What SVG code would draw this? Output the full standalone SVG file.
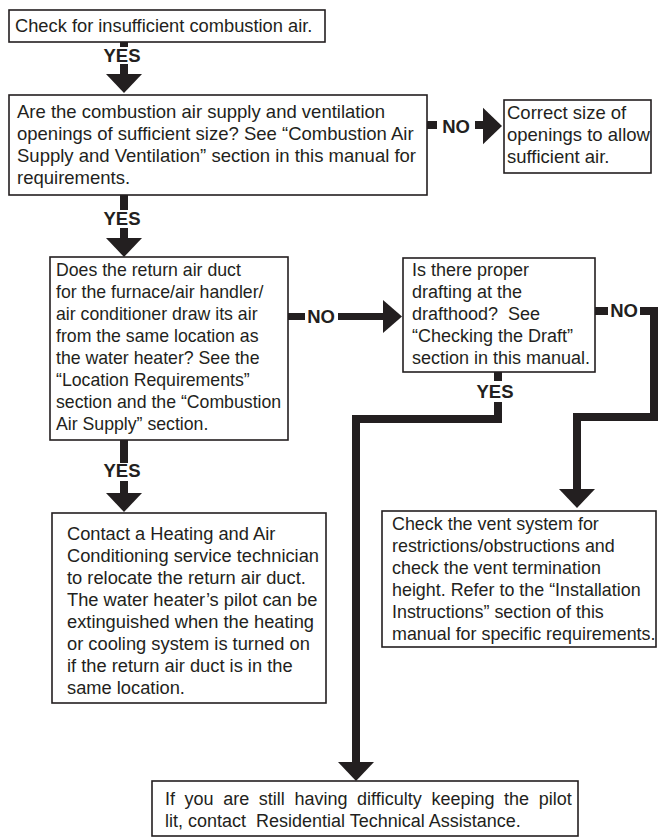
<svg xmlns="http://www.w3.org/2000/svg" width="658" height="838" viewBox="0 0 658 838">
<style>
.box{fill:#fff;stroke:#231f20;stroke-width:1.6}
.t{font-family:"Liberation Sans",Arial,Helvetica,sans-serif;font-size:18px;fill:#231f20}
.lbl{font-family:"Liberation Sans",Arial,Helvetica,sans-serif;font-size:18.5px;font-weight:bold;fill:#231f20;text-anchor:middle}
.shaft{fill:none;stroke:#231f20;stroke-width:8;stroke-linejoin:miter;stroke-linecap:butt}
.head{fill:#231f20}
</style>
<defs>
<path id="ah" d="M-18,0 L18,0 L0,19 Z"/>
</defs>
<rect width="658" height="838" fill="#fff"/>

<g id="connectors">
<path class="shaft" d="M124,42 V47 M124,64 V75"/>
<use href="#ah" class="head" transform="translate(124,74)"/>
<text class="lbl" x="122" y="62">YES</text>

<path class="shaft" d="M124,195 V210 M124,228 V239"/>
<use href="#ah" class="head" transform="translate(124,238)"/>
<text class="lbl" x="122" y="225">YES</text>

<path class="shaft" d="M427,125 H437 M475,125 H484"/>
<use href="#ah" class="head" transform="translate(483,126) rotate(-90) scale(1.02,1)"/>
<text class="lbl" x="456" y="133">NO</text>

<path class="shaft" d="M288,316.5 H305 M338,316.5 H384" style="stroke-width:7"/>
<use href="#ah" class="head" transform="translate(383,316.5) rotate(-90) scale(0.92,1)"/>
<text class="lbl" x="321" y="323">NO</text>

<path class="shaft" d="M595,311 H608 M640,311 H654 V417 H577 V490"/>
<use href="#ah" class="head" transform="translate(577,489)"/>
<text class="lbl" x="624" y="317">NO</text>

<path class="shaft" d="M498,372 V381 M498,402 V419 H356 V763"/>
<use href="#ah" class="head" transform="translate(356,762)"/>
<text class="lbl" x="495" y="398">YES</text>

<path class="shaft" d="M124,440 V463 M124,481 V494"/>
<use href="#ah" class="head" transform="translate(124,493)"/>
<text class="lbl" x="122" y="477">YES</text>
</g>

<g id="n1">
<rect class="box" x="9" y="10" width="316" height="32"/>
<text class="t" x="15" y="32" style="font-size:18.3px">Check for insufficient combustion air.</text>
</g>

<g id="n2">
<rect class="box" x="9" y="95" width="418" height="100"/>
<text class="t" style="font-size:18.5px"><tspan x="17" y="118">Are the combustion air supply and ventilation</tspan><tspan x="17" y="140">openings of sufficient size? See “Combustion Air</tspan><tspan x="17" y="162">Supply and Ventilation” section in this manual for</tspan><tspan x="17" y="184">requirements.</tspan></text>
</g>

<g id="n3">
<rect class="box" x="504" y="100" width="147" height="73"/>
<text class="t" style="font-size:18.5px"><tspan x="507" y="119">Correct size of</tspan><tspan x="507" y="141">openings to allow</tspan><tspan x="507" y="163">sufficient air.</tspan></text>
</g>

<g id="n4">
<rect class="box" x="50" y="257" width="238" height="183"/>
<text class="t" style="font-size:17.7px"><tspan x="56" y="276">Does the return air duct</tspan><tspan x="56" y="298">for the furnace/air handler/</tspan><tspan x="56" y="320">air conditioner draw its air</tspan><tspan x="56" y="342">from the same location as</tspan><tspan x="56" y="364">the water heater? See the</tspan><tspan x="56" y="386">“Location Requirements”</tspan><tspan x="56" y="408">section and the “Combustion</tspan><tspan x="56" y="430">Air Supply” section.</tspan></text>
</g>

<g id="n5">
<rect class="box" x="403" y="258" width="192" height="114"/>
<text class="t" xml:space="preserve"><tspan x="412" y="276">Is there proper</tspan><tspan x="412" y="298">drafting at the</tspan><tspan x="412" y="320">drafthood?  See</tspan><tspan x="412" y="342">“Checking the Draft”</tspan><tspan x="412" y="364">section in this manual.</tspan></text>
</g>

<g id="n6">
<rect class="box" x="382" y="511" width="274" height="136"/>
<text class="t" style="font-size:17.9px"><tspan x="392" y="530">Check the vent system for</tspan><tspan x="392" y="552">restrictions/obstructions and</tspan><tspan x="392" y="574">check the vent termination</tspan><tspan x="392" y="596">height. Refer to the “Installation</tspan><tspan x="392" y="618">Instructions” section of this</tspan><tspan x="392" y="640">manual for specific requirements.</tspan></text>
</g>

<g id="n7">
<rect class="box" x="52" y="513" width="274" height="190"/>
<text class="t" style="font-size:18.3px"><tspan x="67" y="540">Contact a Heating and Air</tspan><tspan x="67" y="562">Conditioning service technician</tspan><tspan x="67" y="584">to relocate the return air duct.</tspan><tspan x="67" y="606">The water heater’s pilot can be</tspan><tspan x="67" y="628">extinguished when the heating</tspan><tspan x="67" y="650">or cooling system is turned on</tspan><tspan x="67" y="672">if the return air duct is in the</tspan><tspan x="67" y="694">same location.</tspan></text>
</g>

<g id="n8">
<rect class="box" x="152" y="781" width="426" height="55"/>
<text class="t" x="165" y="805" style="word-spacing:4.6px">If you are still having difficulty keeping the pilot</text>
<text class="t" x="165" y="827" xml:space="preserve">lit, contact  Residential Technical Assistance.</text>
</g>
</svg>
